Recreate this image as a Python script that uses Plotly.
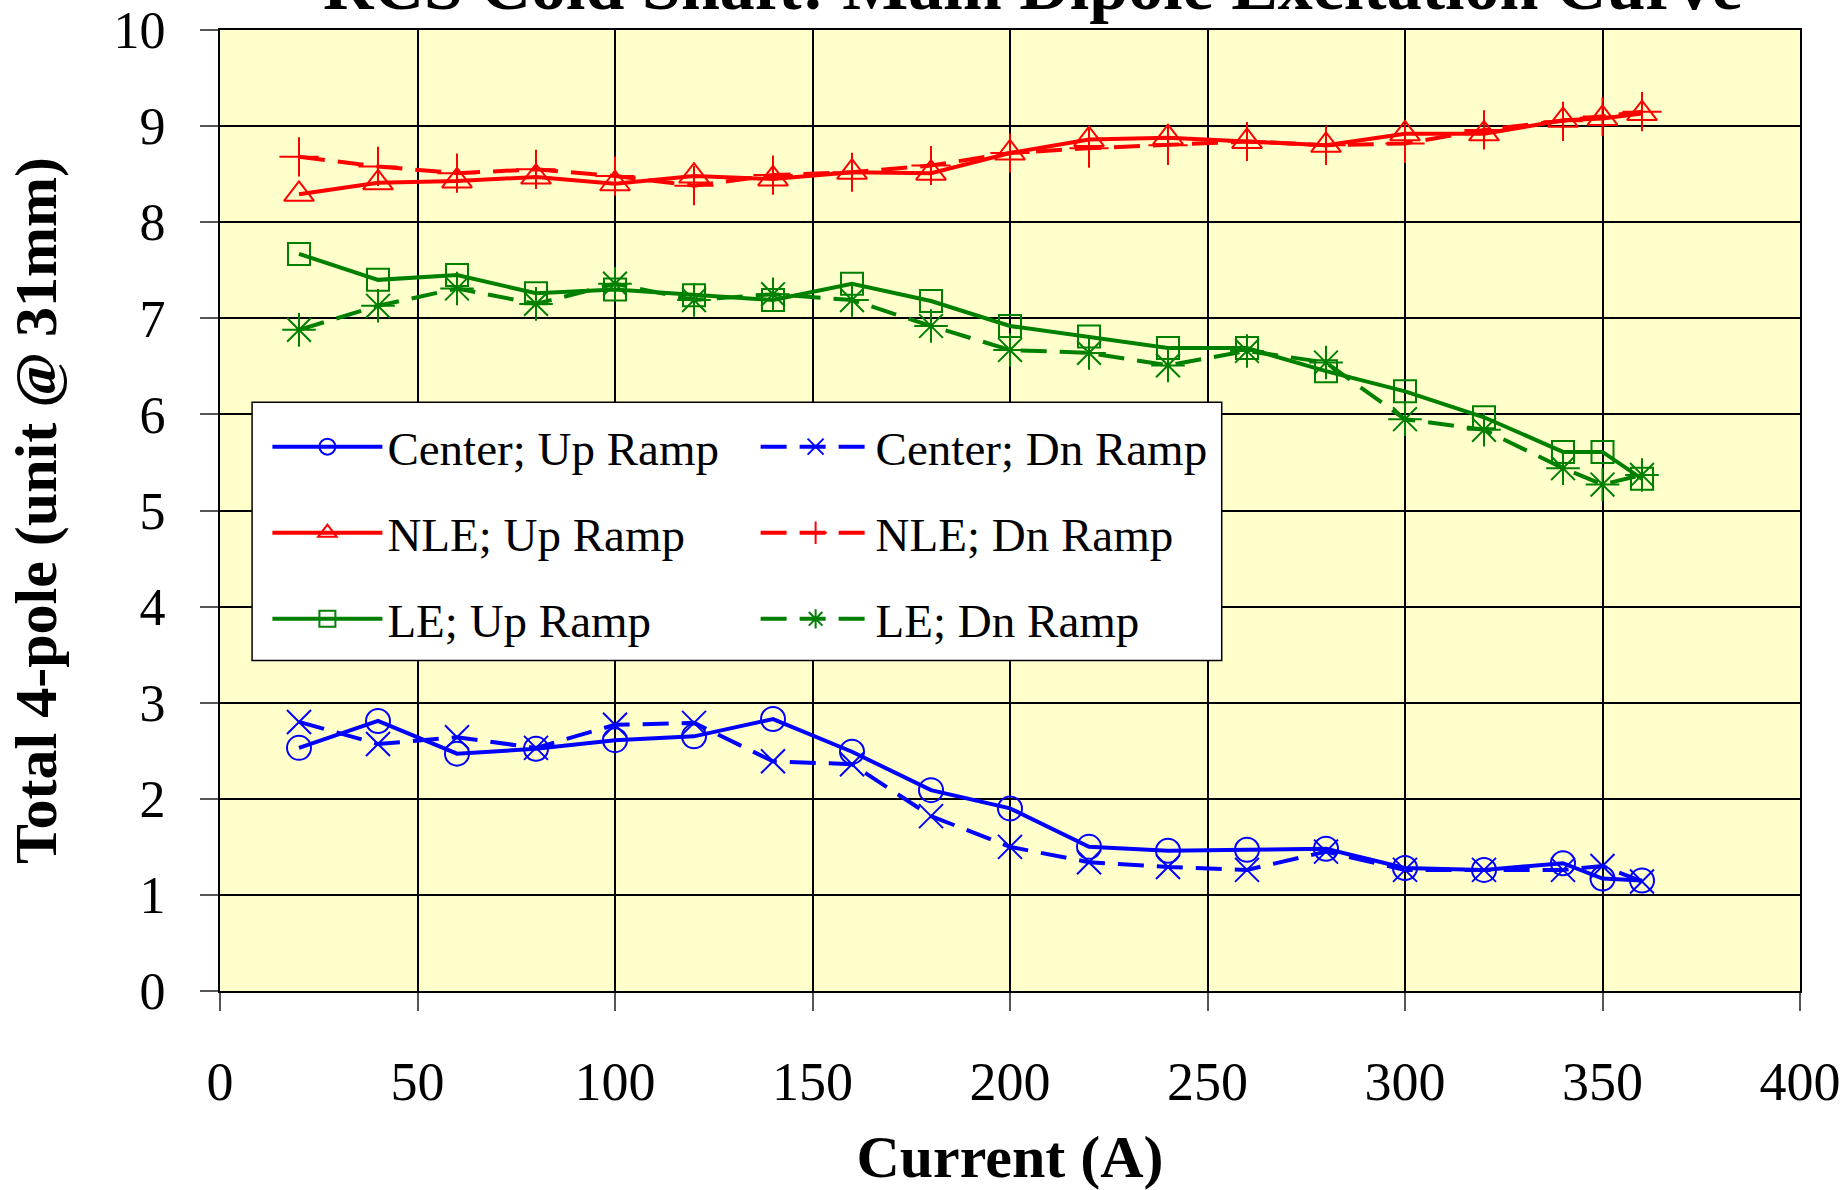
import plotly.graph_objects as go

# Excitation current (A)
current = [20, 40, 60, 80, 100, 120, 140, 160, 180, 200, 220, 240, 260, 280, 300, 320, 340, 350, 360]

# Total 4-pole at 31 mm reference radius, per probe position and ramp direction
center_up = [2.53, 2.81, 2.47, 2.52, 2.61, 2.65, 2.83, 2.49, 2.09, 1.90, 1.50, 1.46, 1.47, 1.48, 1.28, 1.26, 1.33, 1.17, 1.15]
center_dn = [2.80, 2.57, 2.64, 2.53, 2.77, 2.79, 2.39, 2.36, 1.82, 1.50, 1.34, 1.29, 1.26, 1.45, 1.26, 1.26, 1.26, 1.30, 1.14]
nle_up = [8.29, 8.41, 8.43, 8.47, 8.40, 8.48, 8.45, 8.52, 8.51, 8.72, 8.86, 8.88, 8.84, 8.80, 8.92, 8.92, 9.06, 9.08, 9.13]
nle_dn = [8.68, 8.58, 8.51, 8.55, 8.48, 8.38, 8.49, 8.52, 8.59, 8.72, 8.77, 8.80, 8.84, 8.80, 8.82, 8.96, 9.05, 9.10, 9.15]
le_up = [7.67, 7.40, 7.45, 7.26, 7.30, 7.24, 7.19, 7.36, 7.18, 6.92, 6.81, 6.69, 6.69, 6.45, 6.24, 5.97, 5.61, 5.61, 5.33]
le_dn = [6.88, 7.13, 7.31, 7.15, 7.36, 7.19, 7.25, 7.19, 6.92, 6.67, 6.64, 6.51, 6.66, 6.54, 5.95, 5.84, 5.44, 5.27, 5.37]

x_ticks = [0, 50, 100, 150, 200, 250, 300, 350, 400]
y_ticks = [0, 1, 2, 3, 4, 5, 6, 7, 8, 9, 10]

TITLE = "RCS Cold Shaft: Main Dipole Excitation Curve"
FONT = "Liberation Serif"
BLUE, RED, GREEN = "#0000FF", "#FF0000", "#008000"
DASH = "26px,13px"

series = [
    # name, values, colour, dash, symbol, size, legend
    ("Center; Up Ramp", center_up, BLUE, "solid", "circle-open", 24, "legend"),
    ("NLE; Up Ramp", nle_up, RED, "solid", "triangle-up-open", 26, "legend"),
    ("LE; Up Ramp", le_up, GREEN, "solid", "square-open", 22, "legend"),
    ("Center; Dn Ramp", center_dn, BLUE, DASH, "x-thin-open", 24, "legend2"),
    ("NLE; Dn Ramp", nle_dn, RED, DASH, "cross-thin-open", 28, "legend2"),
    ("LE; Dn Ramp", le_dn, GREEN, DASH, "asterisk-open", 28, "legend2"),
]

fig = go.Figure()
for i, (name, vals, col, dash, sym, size, leg) in enumerate(series):
    fig.add_trace(go.Scatter(
        x=current, y=vals, name=name, mode="lines+markers",
        line=dict(color=col, width=4, dash=dash),
        marker=dict(symbol=sym, size=size, color=col, line=dict(color=col, width=2)),
        legend=leg, legendgroup=f"g{i}",
    ))

legend_common = dict(
    font=dict(family=FONT, size=47, color="black"),
    bgcolor="rgba(0,0,0,0)", borderwidth=0,
    traceorder="grouped", tracegroupgap=22,
    itemwidth=110, xanchor="left", yanchor="top",
)

fig.update_layout(
    width=1848, height=1190,
    margin=dict(l=220, r=48, t=30, b=199, autoexpand=False),
    paper_bgcolor="white", plot_bgcolor="#FFFFCC",
    font=dict(family=FONT, color="black"),
    showlegend=True,
    legend=dict(x=0.030, y=0.605, **legend_common),
    legend2=dict(x=0.339, y=0.605, **legend_common),
    shapes=[dict(type="rect", xref="paper", yref="paper",
                 x0=0.0203, x1=0.634, y0=0.344, y1=0.6126,
                 fillcolor="white", line=dict(color="black", width=1.5), layer="above")],
    annotations=[dict(text=f"<b>{TITLE}</b>", xref="paper", yref="paper",
                      x=0.514, y=1, xanchor="center", yanchor="bottom", yshift=4,
                      showarrow=False, font=dict(family=FONT, size=70, color="black"))],
)

fig.update_xaxes(
    range=[0, 400], tickvals=x_ticks, ticktext=[str(v) for v in x_ticks],
    showgrid=True, gridcolor="black", gridwidth=2,
    showline=True, linecolor="black", linewidth=2, mirror=True,
    ticks="outside", ticklen=18, tickcolor="#555555", tickwidth=1.5,
    ticklabelstandoff=24, tickfont=dict(family=FONT, size=54),
    zeroline=False, automargin=False,
    title=dict(text="<b>Current (A)</b>", font=dict(family=FONT, size=60), standoff=26),
)
fig.update_yaxes(
    range=[0, 10], tickvals=y_ticks, ticktext=[str(v) for v in y_ticks],
    showgrid=True, gridcolor="black", gridwidth=2,
    showline=True, linecolor="black", linewidth=2, mirror=True,
    ticks="outside", ticklen=18, tickcolor="#555555", tickwidth=1.5,
    ticklabelstandoff=24, tickfont=dict(family=FONT, size=52),
    zeroline=False, automargin=False,
    title=dict(text="<b>Total 4-pole (unit @ 31mm)</b>", font=dict(family=FONT, size=60), standoff=38),
)

fig.write_html("out.html")
